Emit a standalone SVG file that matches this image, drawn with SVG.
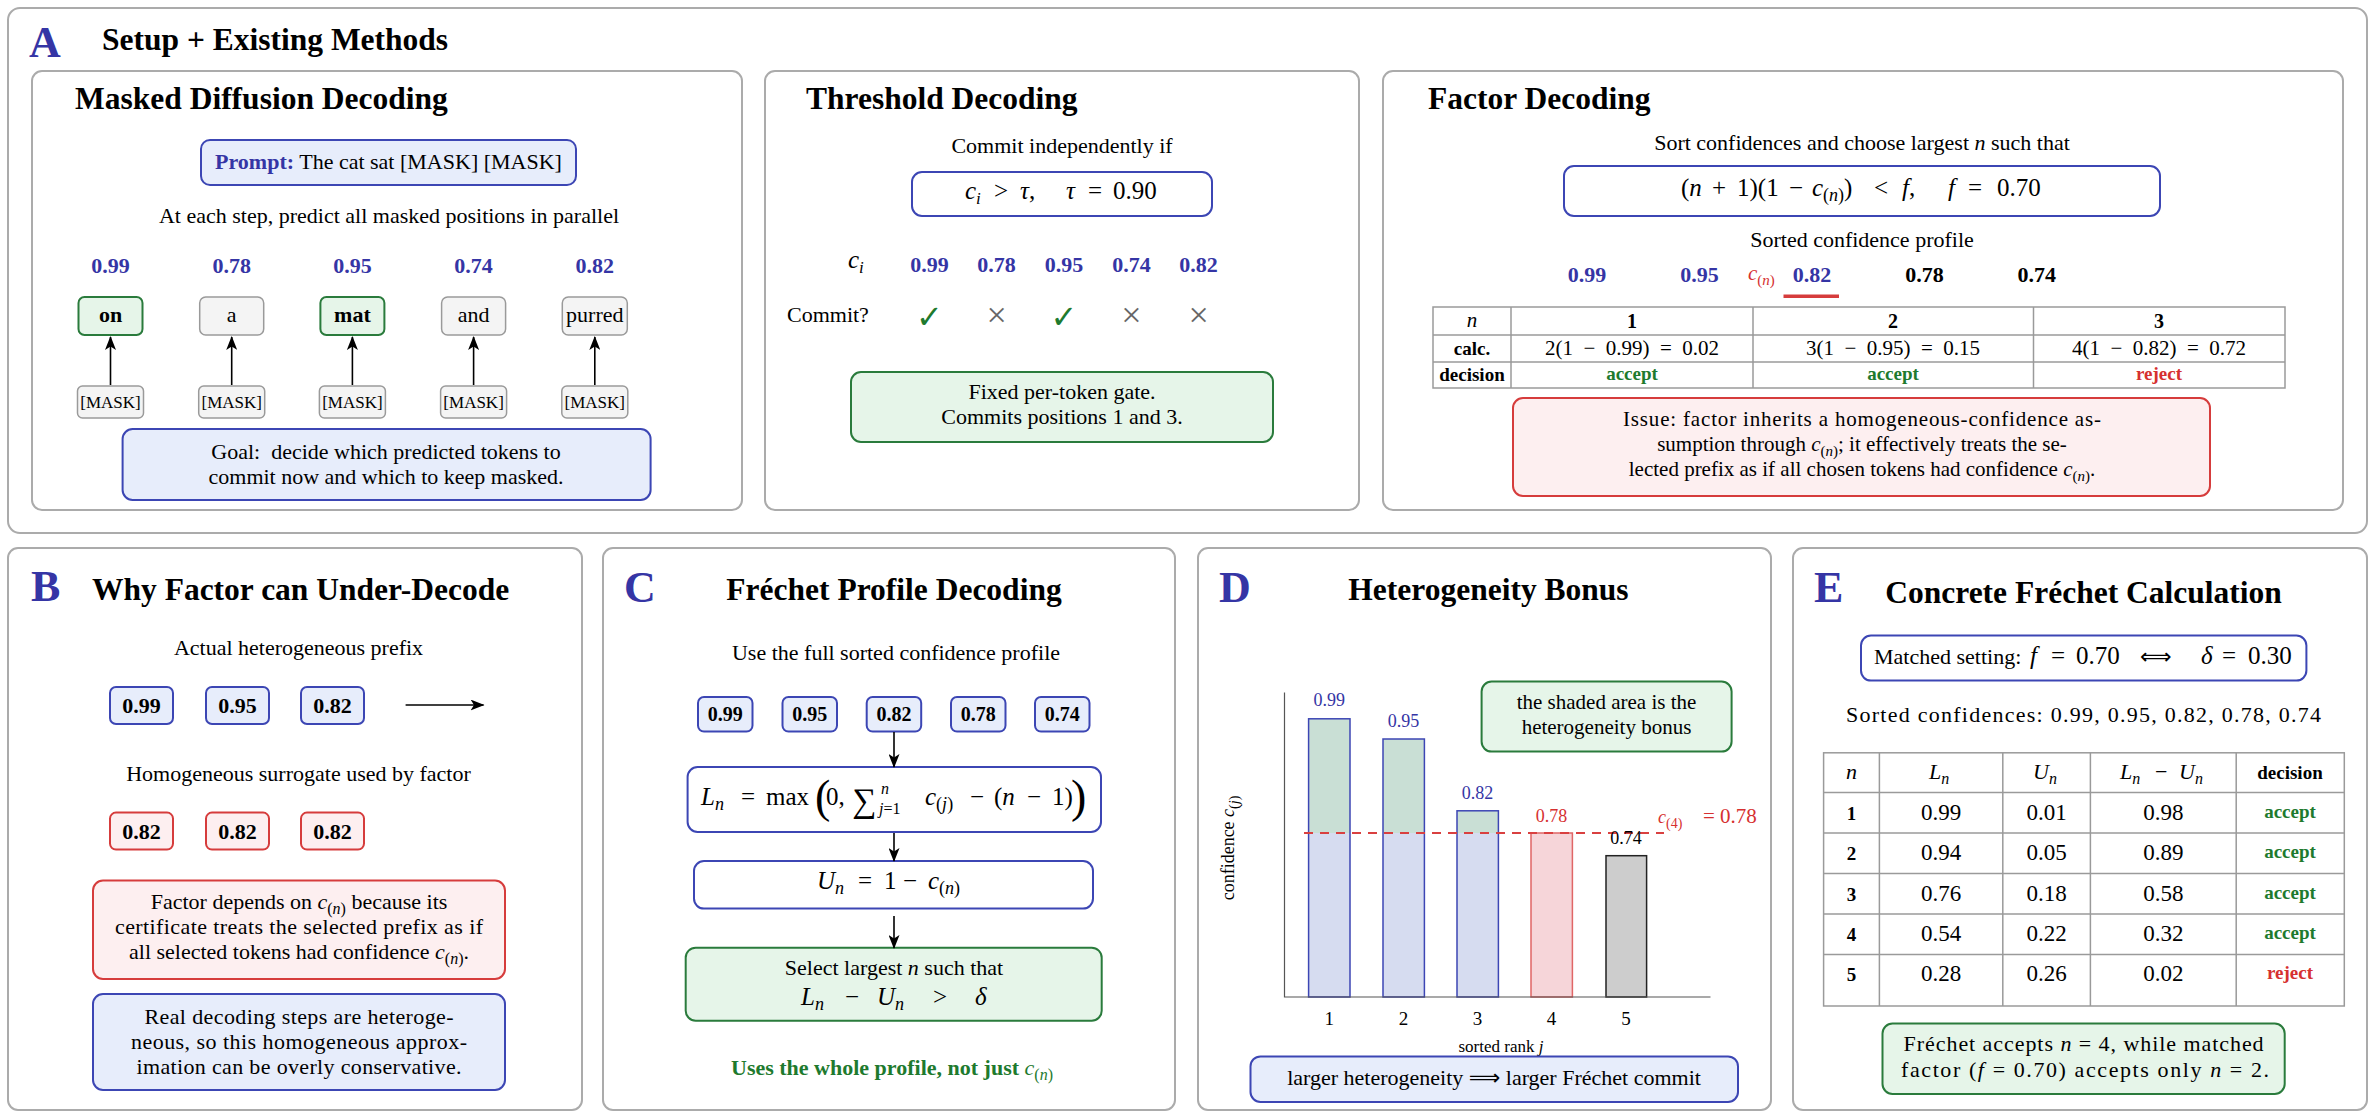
<svg xmlns="http://www.w3.org/2000/svg" width="2375" height="1112" viewBox="0 0 2375 1112">
<defs>
<style>
text{font-family:"Liberation Serif","Times New Roman",serif}
.pn{fill:#fff;stroke:#ababab;stroke-width:2}
.ttl{font-weight:bold;font-size:31.5px}
.let{font-weight:bold;font-size:44px;fill:#3535a5}
.b{font-size:22px}
.m{font-size:25px}
.c{text-anchor:middle}
.bl{fill:#e7edfb;stroke:#3c46b4;stroke-width:2}
.wb{fill:#fff;stroke:#3c46b4;stroke-width:2}
.gr{fill:#e6f5e9;stroke:#2a7b3c;stroke-width:2}
.rd{fill:#fdeff0;stroke:#d63c3c;stroke-width:2}
.gy{fill:#f4f4f4;stroke:#9a9a9a;stroke-width:1.5}
.num{font-weight:bold;font-size:22px;fill:#3535a5}
.i{font-style:italic}
.bd{font-weight:bold}
.acc{font-weight:bold;fill:#1e7a2e}
.rej{font-weight:bold;fill:#d63030}
.red{fill:#d63030}
.blu{fill:#3535a5}
.grn{fill:#1e7a2e}
.arr{stroke:#000;stroke-width:1.6;fill:none;marker-end:url(#ah)}
.tb{fill:none;stroke:#9a9a9a;stroke-width:1.5}
.sym{font-family:"DejaVu Sans",sans-serif}
</style>
<marker id="ah" viewBox="0 0 14 11" refX="13" refY="5.5" markerWidth="14" markerHeight="11" markerUnits="userSpaceOnUse" orient="auto"><path d="M0,0 L14,5.5 L0,11 L3.5,5.5 z" fill="#000"/></marker>
</defs>

<g id="panelA">
<rect class="pn" x="8" y="8" width="2359" height="525" rx="12"/>
<text class="let" x="29" y="57">A</text>
<text class="ttl" x="102" y="50">Setup + Existing Methods</text>
</g>

<g id="masked">
<rect class="pn" x="32" y="71" width="710" height="439" rx="10"/>
<text class="ttl" x="75" y="109">Masked Diffusion Decoding</text>
<g id="prompt">
<rect class="bl" x="201" y="140" width="375" height="45" rx="9"/>
<text class="b c" x="388.5" y="169"><tspan class="bd blu">Prompt:</tspan> The cat sat [MASK] [MASK]</text>
</g>
<text class="b c" x="389" y="223">At each step, predict all masked positions in parallel</text>
<text class="num c" x="110.5" y="273">0.99</text>
<text class="num c" x="231.7" y="273">0.78</text>
<text class="num c" x="352.4" y="273">0.95</text>
<text class="num c" x="473.6" y="273">0.74</text>
<text class="num c" x="594.8" y="273">0.82</text>
<g id="tok1"><rect class="gr" x="78.5" y="297" width="64" height="38" rx="6"/><text class="b c bd" x="110.5" y="322">on</text></g>
<g id="tok2"><rect class="gy" x="199.7" y="297" width="64" height="38" rx="6"/><text class="b c" x="231.7" y="322">a</text></g>
<g id="tok3"><rect class="gr" x="320.4" y="297" width="64" height="38" rx="6"/><text class="b c bd" x="352.4" y="322">mat</text></g>
<g id="tok4"><rect class="gy" x="441.6" y="297" width="64" height="38" rx="6"/><text class="b c" x="473.6" y="322">and</text></g>
<g id="tok5"><rect class="gy" x="562.3" y="297" width="65" height="38" rx="6"/><text class="b c" x="594.8" y="322">purred</text></g>
<g id="mask1"><rect class="gy" x="77.5" y="386" width="66" height="32" rx="5"/><text class="c" font-size="17" x="110.5" y="408">[MASK]</text></g>
<g id="mask2"><rect class="gy" x="198.7" y="386" width="66" height="32" rx="5"/><text class="c" font-size="17" x="231.7" y="408">[MASK]</text></g>
<g id="mask3"><rect class="gy" x="319.4" y="386" width="66" height="32" rx="5"/><text class="c" font-size="17" x="352.4" y="408">[MASK]</text></g>
<g id="mask4"><rect class="gy" x="440.6" y="386" width="66" height="32" rx="5"/><text class="c" font-size="17" x="473.6" y="408">[MASK]</text></g>
<g id="mask5"><rect class="gy" x="561.8" y="386" width="66" height="32" rx="5"/><text class="c" font-size="17" x="594.8" y="408">[MASK]</text></g>
<g id="goal">
<rect class="bl" x="122.6" y="429" width="528" height="71" rx="10"/>
<text class="b c" x="386" y="459">Goal:&#160; decide which predicted tokens to</text>
<text class="b c" x="386" y="484">commit now and which to keep masked.</text>
</g>
</g>

<g id="threshold">
<rect class="pn" x="765" y="71" width="594" height="439" rx="10"/>
<text class="ttl" x="806" y="109">Threshold Decoding</text>
<text class="b c" x="1062" y="153">Commit independently if</text>
<rect class="wb" x="912" y="172" width="300" height="44" rx="10"/>
<text class="m" y="199"><tspan class="i" x="965">c</tspan><tspan class="i" font-size="17" dy="5">i</tspan><tspan x="994" dy="-5">&gt;</tspan><tspan class="i" x="1020">τ</tspan><tspan>,</tspan><tspan class="i" x="1066">τ</tspan><tspan x="1088">=</tspan><tspan x="1113">0.90</tspan></text>
<text class="m" y="268"><tspan class="i" x="848">c</tspan><tspan class="i" font-size="17" dy="5">i</tspan></text>
<text class="num c" x="929.5" y="272">0.99</text>
<text class="num c" x="996.6" y="272">0.78</text>
<text class="num c" x="1064" y="272">0.95</text>
<text class="num c" x="1131.5" y="272">0.74</text>
<text class="num c" x="1198.6" y="272">0.82</text>
<text class="b" x="787" y="322">Commit?</text>
<text class="sym c grn" font-size="32" x="929.5" y="328">✓</text>
<text class="c" font-size="36" fill="#666" x="996.6" y="327">×</text>
<text class="sym c grn" font-size="32" x="1064" y="328">✓</text>
<text class="c" font-size="36" fill="#666" x="1131.5" y="327">×</text>
<text class="c" font-size="36" fill="#666" x="1198.6" y="327">×</text>
<g id="fixedgate">
<rect class="gr" x="851" y="372" width="422" height="70" rx="10"/>
<text class="b c" x="1062" y="399">Fixed per-token gate.</text>
<text class="b c" x="1062" y="424">Commits positions 1 and 3.</text>
</g>
</g>

<g id="factor">
<rect class="pn" x="1383" y="71" width="960" height="439" rx="10"/>
<text class="ttl" x="1428" y="109">Factor Decoding</text>
<text class="b c" x="1862" y="150">Sort confidences and choose largest <tspan class="i">n</tspan> such that</text>
<rect class="wb" x="1564" y="166" width="596" height="50" rx="10"/>
<text class="m" y="196"><tspan x="1681">(</tspan><tspan class="i">n</tspan><tspan x="1712">+</tspan><tspan x="1737">1)(1</tspan><tspan x="1789">−</tspan><tspan class="i" x="1812">c</tspan><tspan font-size="18" dy="5">(<tspan class="i">n</tspan>)</tspan><tspan dy="-5">)</tspan><tspan x="1874">&lt;</tspan><tspan class="i" x="1902">f</tspan><tspan>,</tspan><tspan class="i" x="1948">f</tspan><tspan x="1968">=</tspan><tspan x="1997">0.70</tspan></text>
<text class="b c" x="1862" y="247">Sorted confidence profile</text>
<text class="num c" x="1587" y="282">0.99</text>
<text class="num c" x="1699.5" y="282">0.95</text>
<text class="red" font-size="21" x="1748" y="280"><tspan class="i">c</tspan><tspan font-size="15" dy="5">(<tspan class="i">n</tspan>)</tspan></text>
<text class="num c" x="1812" y="282">0.82</text>
<text class="c bd" font-size="22" x="1924.5" y="282">0.78</text>
<text class="c bd" font-size="22" x="2036.7" y="282">0.74</text>
<rect x="1783.5" y="294.5" width="55.5" height="3.5" fill="#d63c3c"/>
<g id="factortable">
<rect class="tb" x="1433" y="307" width="852" height="81"/>
<path class="tb" d="M1433,335H2285M1433,362H2285M1511,307V388M1753,307V388M2033.5,307V388"/>
<text class="c i" font-size="21" x="1472" y="327">n</text>
<text class="c bd" font-size="20" x="1632" y="328">1</text>
<text class="c bd" font-size="20" x="1893" y="328">2</text>
<text class="c bd" font-size="20" x="2159" y="328">3</text>
<text class="c bd" font-size="19" x="1472" y="355">calc.</text>
<text class="c" font-size="21" x="1632" y="355">2(1&#8194;−&#8194;0.99)&#8194;=&#8194;0.02</text>
<text class="c" font-size="21" x="1893" y="355">3(1&#8194;−&#8194;0.95)&#8194;=&#8194;0.15</text>
<text class="c" font-size="21" x="2159" y="355">4(1&#8194;−&#8194;0.82)&#8194;=&#8194;0.72</text>
<text class="c bd" font-size="19" x="1472" y="381">decision</text>
<text class="c acc" font-size="19" x="1632" y="380">accept</text>
<text class="c acc" font-size="19" x="1893" y="380">accept</text>
<text class="c rej" font-size="19" x="2159" y="380">reject</text>
</g>
<g id="issue">
<rect class="rd" x="1513" y="398" width="697" height="98" rx="10"/>
<text class="c" font-size="21" x="1862" y="426" textLength="478" lengthAdjust="spacing">Issue:  factor inherits a homogeneous-confidence as-</text>
<text class="c" font-size="21" x="1862" y="451">sumption through <tspan class="i">c</tspan><tspan font-size="15" dy="5">(<tspan class="i">n</tspan>)</tspan><tspan dy="-5">; it effectively treats the se-</tspan></text>
<text class="c" font-size="21" x="1862" y="476">lected prefix as if all chosen tokens had confidence <tspan class="i">c</tspan><tspan font-size="15" dy="5">(<tspan class="i">n</tspan>)</tspan><tspan dy="-5">.</tspan></text>
</g>
</g>

<g id="panelB">
<rect class="pn" x="8" y="548" width="574" height="562" rx="10"/>
<text class="let" x="31" y="601">B</text>
<text class="ttl" x="92" y="600">Why Factor can Under-Decode</text>
<text class="b c" x="298.5" y="655">Actual heterogeneous prefix</text>
<g id="bh1"><rect class="bl" x="110" y="687" width="63" height="37" rx="6"/><text class="b c bd" x="141.5" y="713">0.99</text></g>
<g id="bh2"><rect class="bl" x="206" y="687" width="63" height="37" rx="6"/><text class="b c bd" x="237.5" y="713">0.95</text></g>
<g id="bh3"><rect class="bl" x="301" y="687" width="63" height="37" rx="6"/><text class="b c bd" x="332.5" y="713">0.82</text></g>
<text class="b c" x="298.5" y="781">Homogeneous surrogate used by factor</text>
<g id="bs1"><rect class="rd" x="110" y="812.6" width="63" height="37" rx="6"/><text class="b c bd" x="141.5" y="839">0.82</text></g>
<g id="bs2"><rect class="rd" x="206" y="812.6" width="63" height="37" rx="6"/><text class="b c bd" x="237.5" y="839">0.82</text></g>
<g id="bs3"><rect class="rd" x="301" y="812.6" width="63" height="37" rx="6"/><text class="b c bd" x="332.5" y="839">0.82</text></g>
<g id="bnote1">
<rect class="rd" x="93" y="880.5" width="412" height="98.5" rx="10"/>
<text class="b c" x="299" y="909">Factor depends on <tspan class="i">c</tspan><tspan font-size="16" dy="5">(<tspan class="i">n</tspan>)</tspan><tspan dy="-5"> because its</tspan></text>
<text class="b c" x="299" y="934" textLength="368" lengthAdjust="spacing">certificate treats the selected prefix as if</text>
<text class="b c" x="299" y="959">all selected tokens had confidence <tspan class="i">c</tspan><tspan font-size="16" dy="5">(<tspan class="i">n</tspan>)</tspan><tspan dy="-5">.</tspan></text>
</g>
<g id="bnote2">
<rect class="bl" x="93" y="994" width="412" height="96" rx="10"/>
<text class="b c" x="299" y="1024" textLength="309" lengthAdjust="spacing">Real decoding steps are heteroge-</text>
<text class="b c" x="299" y="1049" textLength="336" lengthAdjust="spacing">neous, so this homogeneous approx-</text>
<text class="b c" x="299" y="1074" textLength="325" lengthAdjust="spacing">imation can be overly conservative.</text>
</g>
</g>

<g id="panelC">
<rect class="pn" x="603" y="548" width="572" height="562" rx="10"/>
<text class="let" x="624" y="602">C</text>
<text class="ttl c" x="894" y="600">Fréchet Profile Decoding</text>
<text class="b c" x="896" y="660">Use the full sorted confidence profile</text>
<g id="cb1"><rect class="bl" x="698" y="697" width="54.5" height="34.6" rx="6"/><text class="c bd" font-size="20" x="725.3" y="721">0.99</text></g>
<g id="cb2"><rect class="bl" x="782.5" y="697" width="54.5" height="34.6" rx="6"/><text class="c bd" font-size="20" x="809.7" y="721">0.95</text></g>
<g id="cb3"><rect class="bl" x="866.7" y="697" width="54.5" height="34.6" rx="6"/><text class="c bd" font-size="20" x="894" y="721">0.82</text></g>
<g id="cb4"><rect class="bl" x="951" y="697" width="54.5" height="34.6" rx="6"/><text class="c bd" font-size="20" x="978.2" y="721">0.78</text></g>
<g id="cb5"><rect class="bl" x="1035" y="697" width="54.5" height="34.6" rx="6"/><text class="c bd" font-size="20" x="1062.2" y="721">0.74</text></g>
<g id="lbox">
<rect class="wb" x="687.6" y="767" width="413.4" height="65" rx="10"/>
<text class="m" y="805"><tspan class="i" x="701">L</tspan><tspan class="i" font-size="18" dy="5">n</tspan><tspan x="741" dy="-5">=</tspan><tspan x="766">max</tspan><tspan x="826">0,</tspan><tspan x="925" class="i">c</tspan><tspan font-size="18" dy="5">(<tspan class="i">j</tspan>)</tspan><tspan x="970" dy="-5">−</tspan><tspan x="994">(</tspan><tspan class="i">n</tspan><tspan x="1027">−</tspan><tspan x="1052">1)</tspan></text>
<text font-size="34" x="852" y="812">∑</text>
<text font-size="46" x="815" y="812">(</text>
<text font-size="46" x="1071" y="812">)</text>
<text class="i" font-size="16" x="881" y="794">n</text>
<text font-size="16" x="879" y="814"><tspan class="i">j</tspan>=1</text>
</g>
<g id="ubox">
<rect class="wb" x="694" y="861" width="399" height="47.6" rx="10"/>
<text class="m" y="889"><tspan class="i" x="817">U</tspan><tspan class="i" font-size="18" dy="5">n</tspan><tspan x="858" dy="-5">=</tspan><tspan x="884">1</tspan><tspan x="903">−</tspan><tspan class="i" x="928">c</tspan><tspan font-size="18" dy="5">(<tspan class="i">n</tspan>)</tspan></text>
</g>
<g id="selbox">
<rect class="gr" x="685.7" y="947.7" width="416" height="73" rx="10"/>
<text class="b c" x="894" y="975">Select largest <tspan class="i">n</tspan> such that</text>
<text class="m" y="1005"><tspan class="i" x="801">L</tspan><tspan class="i" font-size="18" dy="5">n</tspan><tspan x="845" dy="-5">−</tspan><tspan class="i" x="877">U</tspan><tspan class="i" font-size="18" dy="5">n</tspan><tspan x="933" dy="-5">&gt;</tspan><tspan class="i" x="975">δ</tspan></text>
</g>
<text class="c bd grn" font-size="22" x="892" y="1075">Uses the whole profile, not just <tspan class="i" font-weight="normal">c</tspan><tspan font-size="16" dy="5" font-weight="normal">(<tspan class="i">n</tspan>)</tspan></text>
</g>

<g id="panelD">
<rect class="pn" x="1198" y="548" width="573" height="562" rx="10"/>
<text class="let" x="1219" y="602">D</text>
<text class="ttl c" x="1488.5" y="600">Heterogeneity Bonus</text>
<g id="chart">
<rect x="1308.6" y="833" width="41.4" height="164" fill="#d6dcf0"/>
<rect x="1308.6" y="718.8" width="41.4" height="114.2" fill="#c9dfd5"/>
<rect x="1308.6" y="718.8" width="41.4" height="278.2" fill="none" stroke="#3c46b4" stroke-width="1.5"/>
<rect x="1383" y="833" width="41.4" height="164" fill="#d6dcf0"/>
<rect x="1383" y="739" width="41.4" height="94" fill="#c9dfd5"/>
<rect x="1383" y="739" width="41.4" height="258" fill="none" stroke="#3c46b4" stroke-width="1.5"/>
<rect x="1457" y="833" width="41.4" height="164" fill="#d6dcf0"/>
<rect x="1457" y="810.8" width="41.4" height="22.2" fill="#c9dfd5"/>
<rect x="1457" y="810.8" width="41.4" height="186.2" fill="none" stroke="#3c46b4" stroke-width="1.5"/>
<rect x="1531" y="833" width="41.4" height="164" fill="#f6d5d9" stroke="#e06666" stroke-width="1.5"/>
<rect x="1606" y="855.7" width="40.6" height="141.3" fill="#cdcdcd" stroke="#222" stroke-width="1.5"/>
<path d="M1284.5,692.5V997H1710.5" fill="none" stroke="#555" stroke-width="1.2"/>
<line x1="1304" y1="833" x2="1664" y2="833" stroke="#d94040" stroke-width="2.2" stroke-dasharray="9 7"/>
<text class="c blu" font-size="18" x="1329.3" y="706">0.99</text>
<text class="c blu" font-size="18" x="1403.5" y="727">0.95</text>
<text class="c blu" font-size="18" x="1477.5" y="799">0.82</text>
<text class="c red" font-size="18" x="1551.5" y="822">0.78</text>
<text class="c" font-size="18" x="1626" y="844">0.74</text>
<text class="red" font-size="21" y="823"><tspan class="i" x="1658" font-size="18">c</tspan><tspan font-size="14" dy="5">(4)</tspan><tspan x="1703" dy="-5">= 0.78</tspan></text>
<text class="c" font-size="19" x="1329.3" y="1025">1</text>
<text class="c" font-size="19" x="1403.5" y="1025">2</text>
<text class="c" font-size="19" x="1477.5" y="1025">3</text>
<text class="c" font-size="19" x="1551.5" y="1025">4</text>
<text class="c" font-size="19" x="1626" y="1025">5</text>
<text class="c" font-size="17" x="1501" y="1052">sorted rank <tspan class="i">j</tspan></text>
<text class="c" font-size="18" transform="translate(1234,848) rotate(-90)">confidence <tspan class="i">c</tspan><tspan font-size="14" dy="5">(<tspan class="i">j</tspan>)</tspan></text>
</g>
<g id="shadenote">
<rect class="gr" x="1481.6" y="681.6" width="250" height="70" rx="10"/>
<text class="c" font-size="21" x="1606.5" y="709">the shaded area is the</text>
<text class="c" font-size="21" x="1606.5" y="734">heterogeneity bonus</text>
</g>
<g id="hetnote">
<rect class="bl" x="1250.5" y="1056.4" width="487.5" height="45.6" rx="10"/>
<text class="b c" x="1494" y="1085">larger heterogeneity <tspan class="sym">⟹</tspan> larger Fréchet commit</text>
</g>
</g>

<g id="panelE">
<rect class="pn" x="1793" y="548" width="574" height="562" rx="10"/>
<text class="let" x="1814" y="602">E</text>
<text class="ttl c" x="2083.5" y="603">Concrete Fréchet Calculation</text>
<g id="matched">
<rect class="wb" x="1861" y="635.6" width="445.4" height="45" rx="10"/>
<text class="b" y="664"><tspan x="1874">Matched setting:</tspan><tspan class="i m" x="2030">f</tspan><tspan class="m" x="2051">=</tspan><tspan class="m" x="2076">0.70</tspan><tspan class="sym" font-size="22" x="2140">⟺</tspan><tspan class="i m" x="2201">δ</tspan><tspan class="m" x="2222">=</tspan><tspan class="m" x="2248">0.30</tspan></text>
</g>
<text class="b c" x="2083.5" y="722" textLength="475" lengthAdjust="spacing">Sorted confidences: 0.99, 0.95, 0.82, 0.78, 0.74</text>
<g id="etable">
<rect class="tb" x="1823.6" y="752.8" width="520.7" height="253.2"/>
<path class="tb" d="M1823.6,792.6H2344.3M1823.6,833H2344.3M1823.6,873.6H2344.3M1823.6,914H2344.3M1823.6,954.6H2344.3M1879.4,752.8V1006M2002.8,752.8V1006M2090.4,752.8V1006M2236.2,752.8V1006"/>
<text class="c i" font-size="22" x="1851.5" y="779">n</text>
<text font-size="22" y="779"><tspan class="i" x="1929">L</tspan><tspan class="i" font-size="16" dy="5">n</tspan></text>
<text font-size="22" y="779"><tspan class="i" x="2033">U</tspan><tspan class="i" font-size="16" dy="5">n</tspan></text>
<text font-size="22" y="779"><tspan class="i" x="2120">L</tspan><tspan class="i" font-size="16" dy="5">n</tspan><tspan x="2155" dy="-5">−</tspan><tspan class="i" x="2179">U</tspan><tspan class="i" font-size="16" dy="5">n</tspan></text>
<text class="c bd" font-size="19" x="2290" y="779">decision</text>
<text class="c bd" font-size="19" x="1851.5" y="820">1</text>
<text class="c" font-size="23" x="1941" y="820">0.99</text>
<text class="c" font-size="23" x="2046.6" y="820">0.01</text>
<text class="c" font-size="23" x="2163.3" y="820">0.98</text>
<text class="c acc" font-size="19" x="2290" y="818">accept</text>
<text class="c bd" font-size="19" x="1851.5" y="860">2</text>
<text class="c" font-size="23" x="1941" y="860">0.94</text>
<text class="c" font-size="23" x="2046.6" y="860">0.05</text>
<text class="c" font-size="23" x="2163.3" y="860">0.89</text>
<text class="c acc" font-size="19" x="2290" y="858">accept</text>
<text class="c bd" font-size="19" x="1851.5" y="901">3</text>
<text class="c" font-size="23" x="1941" y="901">0.76</text>
<text class="c" font-size="23" x="2046.6" y="901">0.18</text>
<text class="c" font-size="23" x="2163.3" y="901">0.58</text>
<text class="c acc" font-size="19" x="2290" y="899">accept</text>
<text class="c bd" font-size="19" x="1851.5" y="941">4</text>
<text class="c" font-size="23" x="1941" y="941">0.54</text>
<text class="c" font-size="23" x="2046.6" y="941">0.22</text>
<text class="c" font-size="23" x="2163.3" y="941">0.32</text>
<text class="c acc" font-size="19" x="2290" y="939">accept</text>
<text class="c bd" font-size="19" x="1851.5" y="981">5</text>
<text class="c" font-size="23" x="1941" y="981">0.28</text>
<text class="c" font-size="23" x="2046.6" y="981">0.26</text>
<text class="c" font-size="23" x="2163.3" y="981">0.02</text>
<text class="c rej" font-size="19" x="2290" y="979">reject</text>
</g>
<g id="fresult">
<rect class="gr" x="1882.5" y="1023.6" width="402.2" height="70.4" rx="10"/>
<text class="b c" x="2083.6" y="1051" textLength="360" lengthAdjust="spacing">Fréchet accepts <tspan class="i">n</tspan> = 4, while matched</text>
<text class="b c" x="2085" y="1077" textLength="368" lengthAdjust="spacing">factor (<tspan class="i">f</tspan> = 0.70) accepts only <tspan class="i">n</tspan> = 2.</text>
</g>
</g>

<g id="connectors">
<line class="arr" x1="110.5" y1="385" x2="110.5" y2="337"/>
<line class="arr" x1="231.7" y1="385" x2="231.7" y2="337"/>
<line class="arr" x1="352.4" y1="385" x2="352.4" y2="337"/>
<line class="arr" x1="473.6" y1="385" x2="473.6" y2="337"/>
<line class="arr" x1="594.8" y1="385" x2="594.8" y2="337"/>
<line class="arr" x1="405.6" y1="705" x2="483.5" y2="705"/>
<line class="arr" x1="894" y1="732" x2="894" y2="767"/>
<line class="arr" x1="894" y1="833" x2="894" y2="861"/>
<line class="arr" x1="894" y1="916" x2="894" y2="948"/>
</g>
</svg>
